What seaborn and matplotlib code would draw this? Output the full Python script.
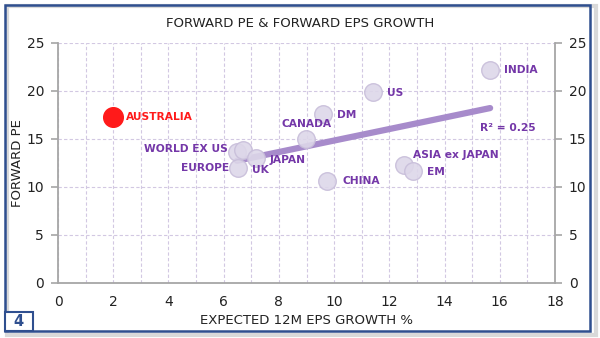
import numpy as np
import pandas as pd
import seaborn as sns
import matplotlib.pyplot as plt
from matplotlib.patches import Rectangle

# ---- data ----
countries = ["AUSTRALIA", "INDIA", "US", "DM", "CANADA", "WORLD EX US", "EUROPE",
             "JAPAN", "UK", "CHINA", "ASIA ex JAPAN", "EM"]
eps_growth = [1.99, 15.65, 11.41, 9.60, 8.99, 6.48, 6.70, 7.17, 6.52, 9.75, 12.54, 12.86]
forward_pe = [17.3, 22.2, 19.9, 17.6, 15.0, 13.6, 13.85, 13.0, 12.0, 10.6, 12.3, 11.7]
r2_label = "R² = 0.25"
x_ticks = [0, 2, 4, 6, 8, 10, 12, 14, 16, 18]
y_ticks = [0, 5, 10, 15, 20, 25]

# label placement (pixel offsets, alignment)
label_pos = {
    "AUSTRALIA": (13, 0, "left"),
    "INDIA": (14, 0, "left"),
    "US": (14, -1, "left"),
    "DM": (14, -1, "left"),
    "CANADA": (25, 15, "right"),
    "WORLD EX US": (-9, 3, "right"),
    "EUROPE": (-14, -18, "right"),
    "JAPAN": (14, -2, "left"),
    "UK": (14, -2, "left"),
    "CHINA": (15, 0, "left"),
    "ASIA ex JAPAN": (9, 10, "left"),
    "EM": (14, -1, "left"),
}

df = pd.DataFrame({"country": countries, "growth": eps_growth, "pe": forward_pe})
others = df[df.country != "AUSTRALIA"]
aus = df[df.country == "AUSTRALIA"]

sns.set_theme(style="white")
plt.rcParams['font.family'] = ['DejaVu Sans']

fig = plt.figure(figsize=(6.0, 3.38), dpi=100)
ax = fig.add_axes([0.0967, 0.163, 0.8283, 0.71])

purple = "#7437A8"
grid_c = "#D2C8E2"

# trend line (fit on markets excl. Australia)
sns.regplot(data=others, x="growth", y="pe", ci=None, scatter=False, ax=ax,
            line_kws=dict(color="#A78BCB", lw=4.5, solid_capstyle="round", zorder=2))

sns.scatterplot(data=others, x="growth", y="pe", ax=ax, s=160, color="#DDD7E9",
                edgecolor="#C8BEDA", linewidth=1.0, alpha=0.9, zorder=3, legend=False)
sns.scatterplot(data=aus, x="growth", y="pe", ax=ax, s=200, color="#FF1A1A",
                edgecolor="#FF1A1A", linewidth=1.0, zorder=4, legend=False)

for c, gx, py in zip(countries, eps_growth, forward_pe):
    dx, dy, ha = label_pos[c]
    col = "#FF1A1A" if c == "AUSTRALIA" else purple
    ax.annotate(c, (gx, py), xytext=(dx, dy), textcoords="offset pixels",
                ha=ha, va="center", fontsize=7.7, fontweight="bold", color=col, zorder=5)

ax.text(15.3, 16.15, r2_label, ha="left", va="center", fontsize=7.7,
        fontweight="bold", color=purple)

ax.set_xlim(0, 18)
ax.set_ylim(0, 25)
ax.set_xticks(x_ticks)
ax.set_xticks(np.arange(1, 18, 2), minor=True)
ax.set_yticks(y_ticks)
ax.grid(True, which="both", axis="x", color=grid_c, ls=(0, (3, 2)), lw=0.8)
ax.grid(True, which="major", axis="y", color=grid_c, ls=(0, (3, 2)), lw=0.8)
ax.set_axisbelow(True)

for s in ["left", "right", "bottom"]:
    ax.spines[s].set_visible(True)
    ax.spines[s].set_color("#A6A6A6")
    ax.spines[s].set_linewidth(1.3)
ax.spines["top"].set_visible(False)

ax.tick_params(axis="both", which="both", direction="out", color="#A6A6A6",
               width=1.2, labelsize=10, colors="#A6A6A6", labelcolor="#222222")
ax.tick_params(axis="x", which="major", length=4, pad=5)
ax.tick_params(axis="x", which="minor", length=4)
ax.tick_params(axis="y", length=5, right=True, left=True, labelright=True, pad=5)

ax.set_xlabel("EXPECTED 12M EPS GROWTH %", fontsize=9.5, color="#222222", labelpad=3)
ax.set_ylabel("FORWARD PE", fontsize=9.5, color="#222222", labelpad=2)
fig.text(0.5, 0.93, "FORWARD PE & FORWARD EPS GROWTH", ha="center", va="center",
         fontsize=9.5, color="#222222")

# figure frame with shadow
fig.patches.append(Rectangle((0.011, 0.010), 0.983, 0.972, transform=fig.transFigure,
                             fill=False, edgecolor="#D9D9D9", lw=3, zorder=0))
fig.patches.append(Rectangle((0.008, 0.022), 0.975, 0.963, transform=fig.transFigure,
                             fill=False, edgecolor="#2F4F8F", lw=1.8, zorder=1))
fig.patches.append(Rectangle((0.008, 0.022), 0.047, 0.055, transform=fig.transFigure,
                             facecolor="white", edgecolor="#2F4F8F", lw=1.5, zorder=1))
fig.text(0.0315, 0.050, "4", ha="center", va="center", fontsize=10.5,
         fontweight="bold", color="#2F4F8F")

fig.savefig("out.png", dpi=100)
